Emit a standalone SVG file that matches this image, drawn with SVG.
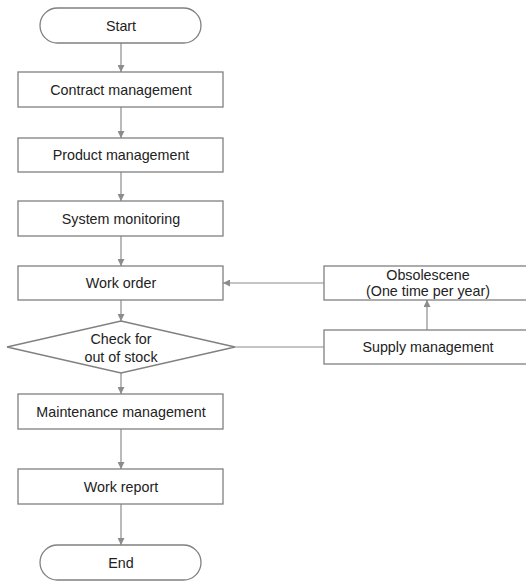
<svg xmlns="http://www.w3.org/2000/svg" width="526" height="583" viewBox="0 0 526 583">
<defs>
<style>
.shape{fill:#fff;stroke:#808080;stroke-width:1.3}
.lbl{font-family:"Liberation Sans",Arial,sans-serif;font-size:14.3px;fill:#222;text-anchor:middle;dominant-baseline:central}
.conn{stroke:#8c8c8c;stroke-width:1.2;fill:none}
</style>
<marker id="ah" viewBox="0 0 10 10" refX="10" refY="5" markerWidth="7" markerHeight="7" markerUnits="userSpaceOnUse" orient="auto">
<path d="M0,0 L10,5 L0,10 z" fill="#8c8c8c"/>
</marker>
</defs>
<rect width="526" height="583" fill="#fff"/>
<g id="connectors">
<line class="conn" x1="121" y1="43" x2="121" y2="72" marker-end="url(#ah)"/>
<line class="conn" x1="121" y1="107" x2="121" y2="138" marker-end="url(#ah)"/>
<line class="conn" x1="121" y1="172" x2="121" y2="201" marker-end="url(#ah)"/>
<line class="conn" x1="121" y1="236" x2="121" y2="266" marker-end="url(#ah)"/>
<line class="conn" x1="121" y1="300" x2="121" y2="321" marker-end="url(#ah)"/>
<line class="conn" x1="121" y1="373" x2="121" y2="394" marker-end="url(#ah)"/>
<line class="conn" x1="121" y1="429" x2="121" y2="469" marker-end="url(#ah)"/>
<line class="conn" x1="121" y1="504" x2="121" y2="545" marker-end="url(#ah)"/>
<line class="conn" x1="324" y1="283" x2="223" y2="283" marker-end="url(#ah)"/>
<line class="conn" x1="427" y1="330" x2="427" y2="300" marker-end="url(#ah)"/>
<line class="conn" x1="235" y1="347" x2="324" y2="347"/>
</g>
<g id="start">
<rect class="shape" x="40" y="8" width="161" height="35" rx="17.5"/>
<text class="lbl" x="121" y="26">Start</text>
</g>
<g id="contract">
<rect class="shape" x="18" y="72" width="205" height="35"/>
<text class="lbl" x="121" y="90">Contract management</text>
</g>
<g id="product">
<rect class="shape" x="18" y="138" width="205" height="34"/>
<text class="lbl" x="121" y="155">Product management</text>
</g>
<g id="system">
<rect class="shape" x="18" y="201" width="205" height="35"/>
<text class="lbl" x="121" y="219">System monitoring</text>
</g>
<g id="workorder">
<rect class="shape" x="18" y="266" width="205" height="34"/>
<text class="lbl" x="121" y="283">Work order</text>
</g>
<g id="check">
<polygon class="shape" points="121,321 235,347 121,373 7,347"/>
<text class="lbl" x="121" y="339">Check for</text>
<text class="lbl" x="121" y="357">out of stock</text>
</g>
<g id="obsolescene">
<rect class="shape" x="324" y="266" width="206" height="34"/>
<text class="lbl" x="428" y="275">Obsolescene</text>
<text class="lbl" x="428" y="291">(One time per year)</text>
</g>
<g id="supply">
<rect class="shape" x="324" y="330" width="206" height="34"/>
<text class="lbl" x="428" y="347">Supply management</text>
</g>
<g id="maintenance">
<rect class="shape" x="18" y="394" width="205" height="35"/>
<text class="lbl" x="121" y="412">Maintenance management</text>
</g>
<g id="workreport">
<rect class="shape" x="18" y="469" width="205" height="35"/>
<text class="lbl" x="121" y="487">Work report</text>
</g>
<g id="end">
<rect class="shape" x="40" y="545" width="161" height="35" rx="17.5"/>
<text class="lbl" x="121" y="563">End</text>
</g>
</svg>
